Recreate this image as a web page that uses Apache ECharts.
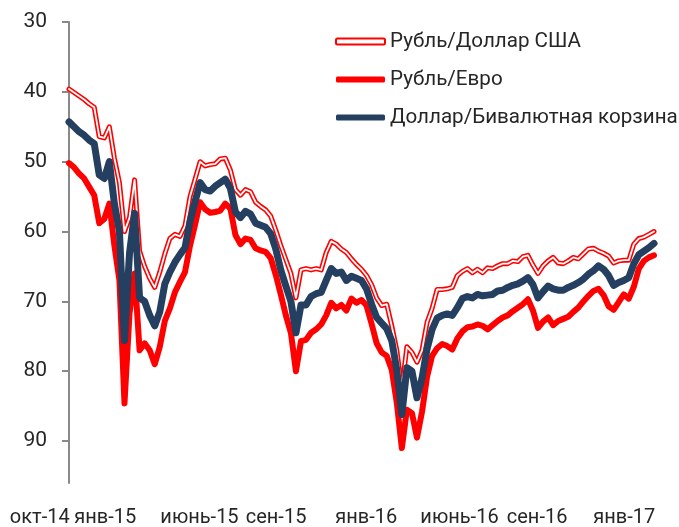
<!DOCTYPE html>
<html>
<head>
<meta charset="utf-8">
<script src="https://cdn.jsdelivr.net/npm/echarts@6/dist/echarts.min.js"></script>
<style>
html,body{margin:0;padding:0;background:#fff;}
#chart{width:679px;height:527px;}
</style>
</head>
<body>
<div id="chart"></div>
<script>
// Series names
const seriesNames = ['Рубль/Доллар США', 'Рубль/Евро', 'Доллар/Бивалютная корзина'];

// X tick labels and their positions (in week-index units)
const tickLabels = ['окт-14', 'янв-15', 'июнь-15', 'сен-15', 'янв-16', 'июнь-16', 'сен-16', 'янв-17'];
const tickPos = [-5.9, 7.1, 25.8, 41, 58.9, 77.4, 92.8, 110.1];

// Y tick values
const yTicks = [30, 40, 50, 60, 70, 80, 90];

// Рубль/Доллар США (weekly samples)
const usd = [39.6,40.1,40.6,41.1,41.7,42.2,46.4,46.6,45.0,49.5,
  53.0,60.0,58.0,52.6,62.8,65.0,66.7,68.0,65.8,63.2,
  61.0,60.4,60.7,59.2,55.0,52.5,50.0,50.6,50.4,50.3,
  49.6,49.5,51.2,54.0,54.8,54.0,54.3,55.8,56.4,56.9,
  57.8,59.8,62.0,64.0,66.0,69.5,65.5,65.3,65.5,65.3,
  65.5,63.0,61.4,61.8,62.5,63.0,63.9,64.7,65.4,66.3,
  67.6,69.5,70.6,70.4,73.5,77.0,82.5,76.5,77.3,78.7,
  77.0,73.0,71.0,68.3,68.3,68.2,68.0,66.3,65.7,65.3,
  65.9,65.4,65.9,65.2,65.3,64.9,64.6,64.6,64.2,64.3,
  63.6,63.4,64.8,66.0,64.9,64.2,63.7,64.5,64.6,64.2,
  63.7,63.9,63.2,62.5,62.4,62.8,63.1,63.5,64.5,64.2,
  64.1,64.1,61.8,61.0,60.8,60.4,60.0];

// Рубль/Евро
const eur = [50.2,50.8,51.7,52.4,53.6,54.8,58.8,58.2,56.0,62.0,
  67.0,84.6,71.7,66.0,77.0,76.0,77.0,79.0,76.5,72.8,
  71.0,68.7,67.2,65.8,62.0,59.0,55.8,56.8,57.3,57.2,
  57.0,56.0,56.7,60.5,61.8,61.0,61.2,62.4,62.7,62.9,
  63.8,66.2,69.0,72.0,74.5,80.0,75.7,75.5,74.5,74.0,
  73.3,72.0,70.2,71.0,70.5,71.3,69.6,70.2,69.8,70.6,
  73.2,76.0,77.3,77.8,79.8,84.5,91.0,85.5,86.0,89.5,
  85.8,80.8,77.8,76.7,76.1,76.4,76.9,75.3,74.3,73.7,
  73.6,73.3,73.5,74.0,73.4,72.8,72.3,72.0,71.4,70.9,
  70.4,69.7,71.3,73.8,72.9,72.3,73.4,72.8,72.5,72.2,
  71.5,70.9,70.0,69.2,68.5,68.2,69.1,70.7,71.2,70.1,
  69.0,69.6,67.9,65.3,64.2,63.7,63.4];

// Доллар/Бивалютная корзина
const basket = [44.3,45.0,45.7,46.2,46.9,47.4,51.9,52.4,50.0,56.0,
  60.0,75.6,63.1,57.4,69.5,70.0,72.0,73.5,71.5,67.5,
  65.8,64.4,63.3,62.3,58.5,55.7,53.0,54.0,54.2,53.5,
  53.0,52.5,53.8,57.2,58.0,57.1,57.5,58.8,59.1,59.4,
  60.3,62.5,65.5,67.8,70.0,74.5,70.5,70.5,69.3,68.9,
  68.7,67.0,65.3,66.0,65.8,67.0,66.4,66.7,67.0,68.2,
  70.4,72.3,73.1,73.9,75.6,79.8,86.2,79.5,80.0,83.8,
  81.0,76.8,74.0,72.4,72.0,71.8,72.0,70.9,69.6,69.3,
  69.5,69.0,69.2,69.1,69.0,68.5,68.4,68.0,67.7,67.5,
  67.1,66.6,67.6,69.5,68.6,67.8,68.2,68.4,68.4,68.0,
  67.7,67.3,66.8,66.1,65.6,64.9,65.4,66.3,67.7,67.3,
  67.0,66.6,64.6,63.3,62.8,62.3,61.7];

const toPts = arr => arr.map((v, i) => [i, v]);
const FONT = 'Roboto';
const TXT = '#262626';
const AX = '#898989';

const chart = echarts.init(document.getElementById('chart'), null, {renderer: 'canvas'});
chart.setOption({
  animation: false,
  backgroundColor: '#ffffff',
  grid: [
    {left: 69, right: 25, top: 22, bottom: 44, containLabel: false, outerBoundsMode: 'none'},
    {left: 9, right: 25, top: 22, bottom: 44, containLabel: false, outerBoundsMode: 'none'}
  ],
  legend: {
    orient: 'vertical',
    left: 335,
    top: 31,
    padding: 0,
    itemGap: 17,
    itemWidth: 49,
    itemHeight: 6,
    textStyle: {fontFamily: FONT, fontSize: 20.6, color: TXT},
    data: [
      {name: seriesNames[0], icon: 'roundRect', itemStyle: {color: '#ffffff', borderColor: '#ff0000', borderWidth: 2}},
      {name: seriesNames[1], icon: 'roundRect', itemStyle: {color: '#ff0000', borderWidth: 0}},
      {name: seriesNames[2], icon: 'roundRect', itemStyle: {color: '#243f60', borderWidth: 0}}
    ]
  },
  xAxis: [
    {
      gridIndex: 0, type: 'value', min: 0, max: usd.length - 1,
      axisLine: {show: false}, axisTick: {show: false}, splitLine: {show: false},
      axisLabel: {show: false}
    },
    {
      gridIndex: 1, type: 'value', min: -12, max: usd.length - 1,
      axisLine: {show: false}, axisTick: {show: false}, splitLine: {show: false},
      axisLabel: {
        customValues: tickPos,
        margin: 25,
        fontFamily: FONT,
        fontSize: 20,
        color: TXT,
        formatter: function (val) {
          const k = tickPos.findIndex(p => Math.abs(p - val) < 0.01);
          return k >= 0 ? tickLabels[k] : '';
        }
      }
    }
  ],
  yAxis: [
    {
      gridIndex: 0, type: 'value', inverse: true, min: 30, max: 96,
      axisLine: {show: true, onZero: false, lineStyle: {color: AX, width: 2}},
      axisTick: {show: true, length: 7, customValues: yTicks, lineStyle: {color: AX, width: 2}},
      splitLine: {show: false},
      axisLabel: {customValues: yTicks, margin: 22, fontFamily: FONT, fontSize: 21, color: TXT}
    },
    {
      gridIndex: 1, type: 'value', inverse: true, min: 30, max: 96, show: false
    }
  ],
  series: [
    {
      name: seriesNames[0], type: 'line', data: toPts(usd), symbol: 'none',
      lineStyle: {color: '#ff0000', width: 5, join: 'round', cap: 'round'},
      itemStyle: {color: '#ff0000'}, z: 1
    },
    {
      name: 'core', type: 'line', data: toPts(usd), symbol: 'none',
      lineStyle: {color: '#ffffff', width: 1.8, join: 'round', cap: 'round'},
      itemStyle: {color: '#ffffff'}, z: 2, silent: true
    },
    {
      name: seriesNames[1], type: 'line', data: toPts(eur), symbol: 'none',
      lineStyle: {color: '#ff0000', width: 6, join: 'round', cap: 'round'},
      itemStyle: {color: '#ff0000'}, z: 3
    },
    {
      name: seriesNames[2], type: 'line', data: toPts(basket), symbol: 'none',
      lineStyle: {color: '#243f60', width: 7, join: 'round', cap: 'round'},
      itemStyle: {color: '#243f60'}, z: 4
    },
    {
      name: 'labelsHolder', type: 'line', xAxisIndex: 1, yAxisIndex: 1, data: [], silent: true
    }
  ]
});
</script>
</body>
</html>
